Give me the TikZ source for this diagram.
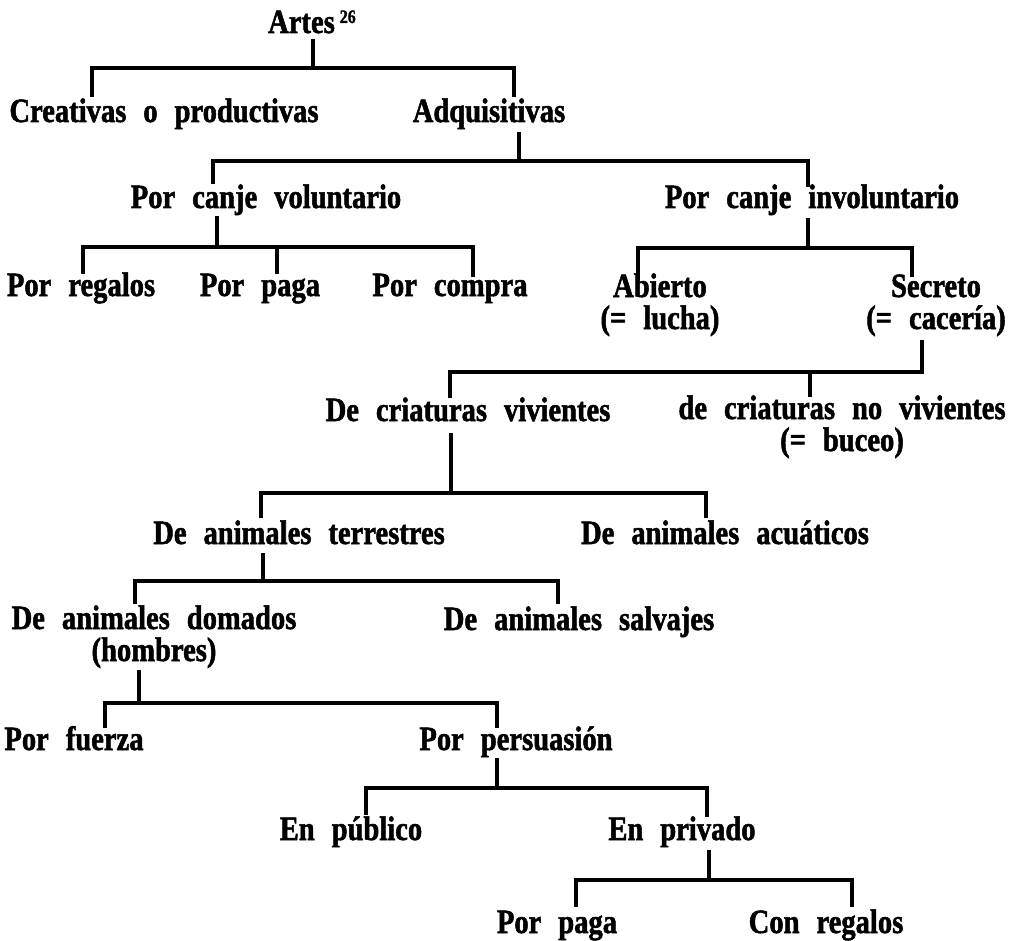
\documentclass[tikz,border=0pt]{standalone}
\usepackage{fontspec}
\setmainfont{Liberation Serif}
\newfontfamily\heavyserif{Liberation Serif Bold}[FakeBold=1.5,FakeStretch=0.84]
\newcommand\lblfont{\heavyserif\fontsize{34}{32}\selectfont\spaceskip=17pt plus 2pt\relax}
\begin{document}
\begin{tikzpicture}[x=1pt,y=-1pt,
  lbl/.style={anchor=base, inner sep=0pt, font=\lblfont, align=center},
  br/.style={line width=3.2pt, line cap=butt, line join=miter}]
\useasboundingbox[fill=white] (0,0) rectangle (1025,941);

% ---------- labels (anchor = baseline of last line) ----------
\node[lbl] (artes) at (312,33) {Artes\hspace{5pt}\raisebox{10pt}{\fontsize{19}{19}\selectfont 26}};
\node[lbl] (creat) at (164,122) {Creativas o productivas};
\node[lbl] (adq) at (489,122) {Adquisitivas};
\node[lbl] (vol) at (266,208) {Por canje voluntario};
\node[lbl] (invol) at (812,208) {Por canje involuntario};
\node[lbl] (regalos) at (81,296) {Por regalos};
\node[lbl] (paga) at (260,296) {Por paga};
\node[lbl] (compra) at (450,296) {Por compra};
\node[lbl] (abierto) at (660,329) {Abierto\\(= lucha)};
\node[lbl] (secreto) at (936,329) {Secreto\\(= cacería)};
\node[lbl] (viv) at (468,421) {De criaturas vivientes};
\node[lbl] (noviv) at (842,451) {de criaturas no vivientes\\(= buceo)};
\node[lbl] (terr) at (299,544) {De animales terrestres};
\node[lbl] (acua) at (725,544) {De animales acuáticos};
\node[lbl] (dom) at (154,661) {De animales domados\\(hombres)};
\node[lbl] (salv) at (579,630) {De animales salvajes};
\node[lbl] (fuerza) at (74,750) {Por fuerza};
\node[lbl] (pers) at (516,750) {Por persuasión};
\node[lbl] (publico) at (351,840) {En público};
\node[lbl] (privado) at (682,840) {En privado};
\node[lbl] (paga2) at (557,933) {Por paga};
\node[lbl] (conreg) at (826,933) {Con regalos};

% ---------- junction coordinates ----------
% Artes
\coordinate (a0) at (313,39);  \coordinate (a1) at (313,68);
\coordinate (aL) at (92,97);   \coordinate (aR) at (514,97);
\coordinate (aLt) at (92,68);  \coordinate (aRt) at (514,68);
% Adquisitivas
\coordinate (b0) at (519,132); \coordinate (b1) at (519,161);
\coordinate (bL) at (213,184); \coordinate (bR) at (808,187);
\coordinate (bLt) at (213,161); \coordinate (bRt) at (808,161);
% voluntario
\coordinate (c0) at (217,216); \coordinate (c1) at (217,247);
\coordinate (cL) at (83,274);  \coordinate (cM) at (277,274); \coordinate (cR) at (473,277);
\coordinate (cLt) at (83,247); \coordinate (cMt) at (277,247); \coordinate (cRt) at (473,247);
% involuntario
\coordinate (d0) at (808,218); \coordinate (d1) at (808,248);
\coordinate (dL) at (638,280); \coordinate (dR) at (912,277);
\coordinate (dLt) at (638,248); \coordinate (dRt) at (912,248);
% secreto
\coordinate (e0) at (922,340); \coordinate (e1) at (922,372);
\coordinate (eL) at (450,398); \coordinate (eM) at (810,397);
\coordinate (eLt) at (450,372); \coordinate (eMt) at (810,372);
% vivientes
\coordinate (f0) at (451,433); \coordinate (f1) at (451,493);
\coordinate (fL) at (261,518); \coordinate (fR) at (706,518);
\coordinate (fLt) at (261,493); \coordinate (fRt) at (706,493);
% terrestres
\coordinate (g0) at (263,553); \coordinate (g1) at (263,581);
\coordinate (gL) at (135,604); \coordinate (gR) at (558,604);
\coordinate (gLt) at (135,581); \coordinate (gRt) at (558,581);
% hombres
\coordinate (h0) at (139,670); \coordinate (h1) at (139,703);
\coordinate (hL) at (105,728); \coordinate (hR) at (497,728);
\coordinate (hLt) at (105,703); \coordinate (hRt) at (497,703);
% persuasion
\coordinate (i0) at (497,758); \coordinate (i1) at (497,788);
\coordinate (iL) at (366,815); \coordinate (iR) at (707,817);
\coordinate (iLt) at (366,788); \coordinate (iRt) at (707,788);
% privado
\coordinate (k0) at (709,850); \coordinate (k1) at (709,880);
\coordinate (kL) at (576,907); \coordinate (kR) at (852,907);
\coordinate (kLt) at (576,880); \coordinate (kRt) at (852,880);

% ---------- connectors ----------
\draw[br] (a0) -- (a1);
\draw[br] (aL) -- (aLt) -- (aRt) -- (aR);
\draw[br] (b0) -- (b1);
\draw[br] (bL) -- (bLt) -- (bRt) -- (bR);
\draw[br] (c0) -- (c1);
\draw[br] (cL) -- (cLt) -- (cRt) -- (cR);
\draw[br] (cMt) -- (cM);
\draw[br] (d0) -- (d1);
\draw[br] (dL) -- (dLt) -- (dRt) -- (dR);
\draw[br] (e0) -- (e1) -- (eLt) -- (eL);
\draw[br] (eMt) -- (eM);
\draw[br] (f0) -- (f1);
\draw[br] (fL) -- (fLt) -- (fRt) -- (fR);
\draw[br] (g0) -- (g1);
\draw[br] (gL) -- (gLt) -- (gRt) -- (gR);
\draw[br] (h0) -- (h1);
\draw[br] (hL) -- (hLt) -- (hRt) -- (hR);
\draw[br] (i0) -- (i1);
\draw[br] (iL) -- (iLt) -- (iRt) -- (iR);
\draw[br] (k0) -- (k1);
\draw[br] (kL) -- (kLt) -- (kRt) -- (kR);
\end{tikzpicture}
\end{document}
